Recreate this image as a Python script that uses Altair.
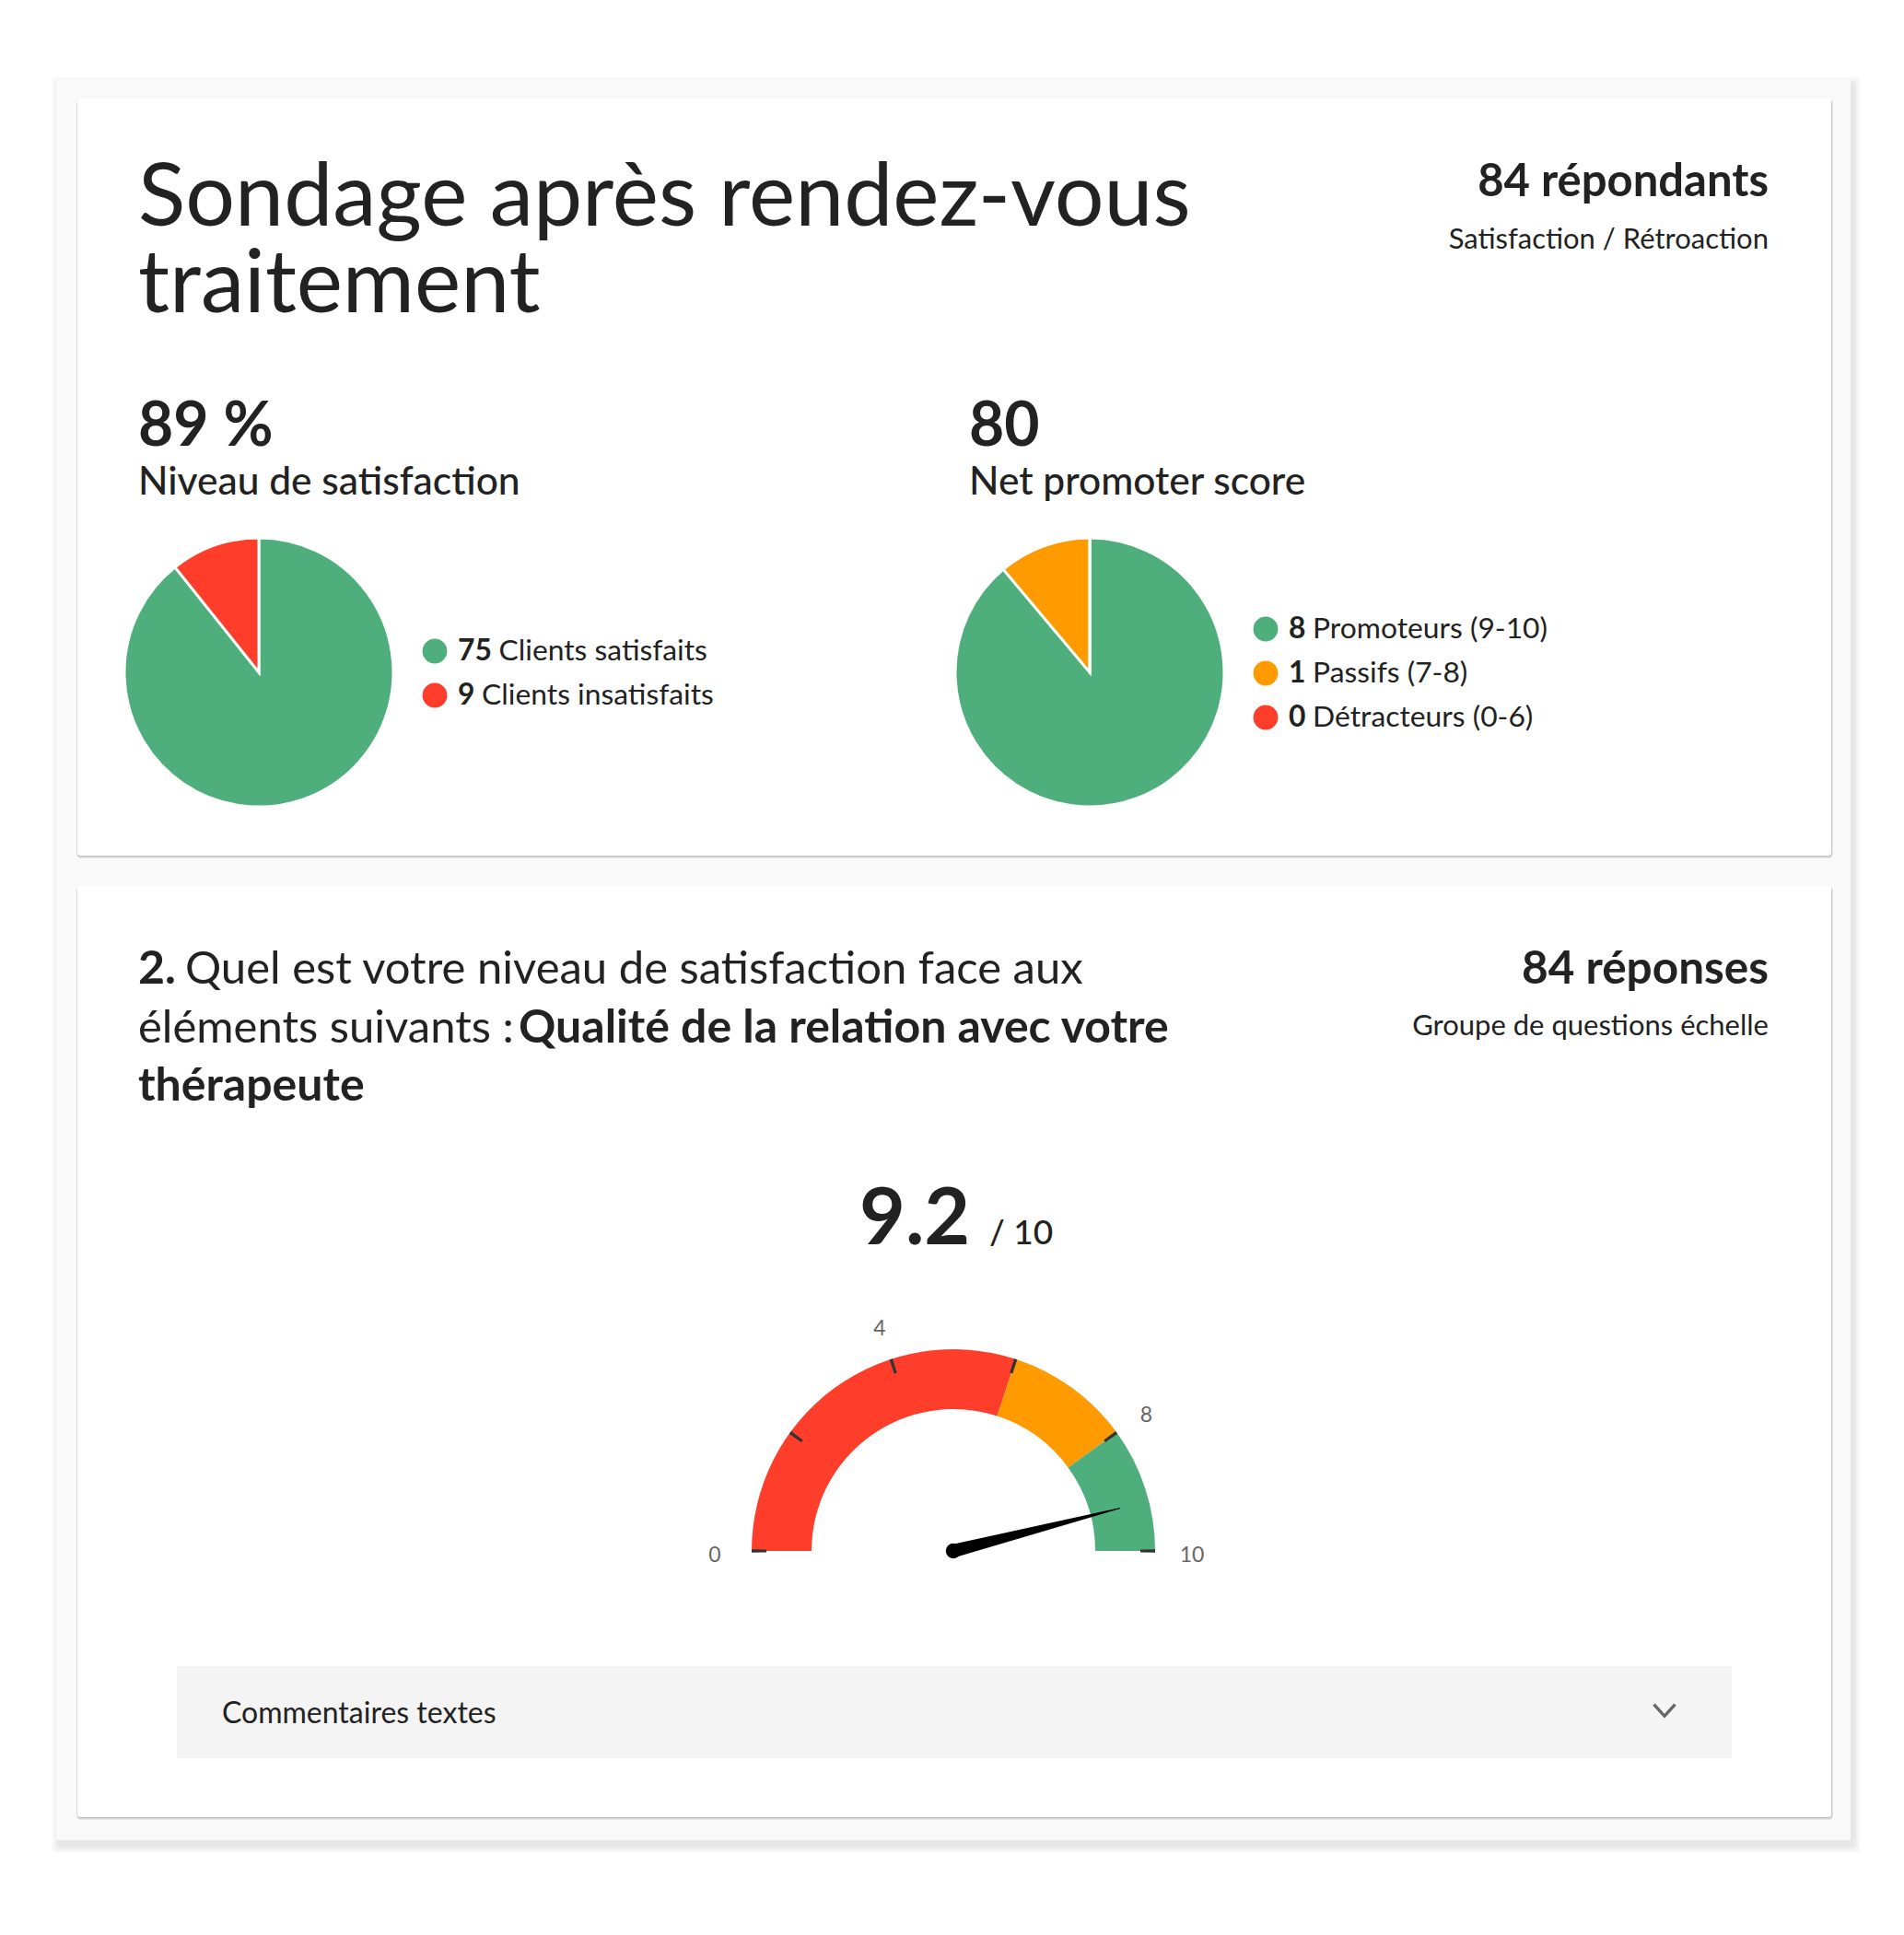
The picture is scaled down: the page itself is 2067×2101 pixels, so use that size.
import altair as alt
import pandas as pd

# ---------------- data ----------------
title_lines = ["Sondage après rendez-vous", "traitement"]
respondents_text = "84 répondants"
survey_type = "Satisfaction / Rétroaction"

sat_value_text = "89 %"
sat_title = "Niveau de satisfaction"
sat_labels = ["Clients satisfaits", "Clients insatisfaits"]
sat_counts = [75, 9]
sat_colors = ["#4faf7c", "#ff3d2b"]

nps_value_text = "80"
nps_title = "Net promoter score"
nps_labels = ["Promoteurs (9-10)", "Passifs (7-8)", "Détracteurs (0-6)"]
nps_counts = [8, 1, 0]
nps_colors = ["#4faf7c", "#ff9a00", "#ff3d2b"]

q_number = "2."
q_line1 = "Quel est votre niveau de satisfaction face aux"
q_line2 = "éléments suivants :"
q_bold2 = "Qualité de la relation avec votre"
q_bold3 = "thérapeute"
responses_text = "84 réponses"
question_type = "Groupe de questions échelle"

gauge_starts = [0, 6, 8]
gauge_ends = [6, 8, 10]
gauge_colors = ["#ff3d2b", "#ff9a00", "#4faf7c"]
gauge_ticks = [0, 2, 4, 6, 8, 10]
gauge_tick_labels = [0, 4, 8, 10]
score = 9.2
score_max = 10
comments_text = "Commentaires textes"

# ---------------- layout (reference pixels) ----------------
OFF = 8
W, H = 2051, 2075
FONT = "Lato"
INK = "#222222"


def P(v):
    return v - OFF


def rects(rows, **mark):
    df = pd.DataFrame([{"x": P(a), "x2": P(b), "y": P(c), "y2": P(d)} for a, b, c, d in rows])
    return alt.Chart(df).mark_rect(**mark).encode(
        x=alt.X("x:Q", scale=None, axis=None), x2="x2:Q",
        y=alt.Y("y:Q", scale=None, axis=None), y2="y2:Q")


def texts(items, size, weight="normal", color=INK, align="left", baseline="alphabetic", **extra):
    df = pd.DataFrame([{"x": P(x), "y": P(y), "t": t} for x, y, t in items])
    return alt.Chart(df).mark_text(fontSize=size, fontWeight=weight, color=color, align=align,
                                   baseline=baseline, font=FONT, **extra).encode(
        x=alt.X("x:Q", scale=None, axis=None), y=alt.Y("y:Q", scale=None, axis=None), text="t:N")


layers = []

# outer container shadow + fill
for i in range(1, 9):
    layers.append(rects([(61 - i + 3, 2009 + i + 3, 86 - i + 5, 1998 + i + 6)],
                        color="#000000", opacity=0.012, cornerRadius=4))
layers.append(rects([(61, 2009, 86, 1998)], color="#f9f9f9"))

# cards with thin shadows
cards = [(84, 1988, 107, 929), (84, 1988, 962, 1973)]
for i in range(1, 4):
    layers.append(rects([(a - 0.5, b + i * 0.6, c + 1, d + i) for a, b, c, d in cards],
                        color="#000000", opacity=0.08, cornerRadius=4))
layers.append(rects(cards, color="#ffffff", cornerRadius=3))

# comment box
layers.append(rects([(192, 1880, 1809, 1909)], color="#f4f4f4"))

# ---- texts card 1
layers.append(texts([(150, 245, "\n".join(title_lines))], 95, lineBreak="\n", lineHeight=94))
layers.append(texts([(1920, 213, respondents_text)], 49, weight="bold", align="right"))
layers.append(texts([(1920, 270, survey_type)], 31, align="right"))
layers.append(texts([(150, 484, sat_value_text), (1052, 484, nps_value_text)], 66, weight="bold"))
layers.append(texts([(150, 537, sat_title), (1052, 537, nps_title)], 42.5, weight=500))

# ---- pies
def pie(labels, counts, colors, cx, cy, r):
    df = pd.DataFrame({"label": labels, "count": counts, "color": colors,
                       "order": list(range(len(labels)))})
    df["cx"] = P(cx)
    df["cy"] = P(cy)
    return alt.Chart(df).mark_arc(radius=r, stroke="white", strokeWidth=3).encode(
        x=alt.X("cx:Q", scale=None, axis=None), y=alt.Y("cy:Q", scale=None, axis=None),
        theta=alt.Theta("count:Q", stack=True),
        color=alt.Color("color:N", scale=None, legend=None),
        order=alt.Order("order:Q"))


layers.append(pie(sat_labels, sat_counts, sat_colors, 281, 730, 146))
layers.append(pie(nps_labels, nps_counts, nps_colors, 1183, 730, 146))

# ---- legends
LEG_FS = 31.8


def legend(labels, counts, colors, dot_x, y0, dy):
    rows = []
    for i, (lab, c, col) in enumerate(zip(labels, counts, colors)):
        cs = str(c)
        tx = dot_x + 25
        rows.append({"dx": P(dot_x), "y": P(y0 + i * dy), "color": col,
                     "cx": P(tx), "ct": cs,
                     "lx": P(tx + len(cs) * 0.58 * LEG_FS + 0.24 * LEG_FS), "lt": lab})
    df = pd.DataFrame(rows)
    base = alt.Chart(df)
    dots = base.mark_circle(size=720, opacity=1).encode(
        x=alt.X("dx:Q", scale=None, axis=None), y=alt.Y("y:Q", scale=None, axis=None),
        color=alt.Color("color:N", scale=None, legend=None))
    cnt = base.mark_text(fontSize=LEG_FS, fontWeight="bold", font=FONT, color=INK, align="left",
                         baseline="middle").encode(
        x=alt.X("cx:Q", scale=None, axis=None), y=alt.Y("y:Q", scale=None, axis=None), text="ct:N")
    lab = base.mark_text(fontSize=LEG_FS, font=FONT, color=INK, align="left", baseline="middle").encode(
        x=alt.X("lx:Q", scale=None, axis=None), y=alt.Y("y:Q", scale=None, axis=None), text="lt:N")
    return [dots, cnt, lab]


layers += legend(sat_labels, sat_counts, sat_colors, 472, 707, 48)
layers += legend(nps_labels, nps_counts, nps_colors, 1374, 683, 48)

# ---- texts card 2
layers.append(texts([(150, 1068, q_number), (563, 1132, q_bold2), (150, 1195, q_bold3)], 50, weight="bold"))
layers.append(texts([(201, 1068, q_line1), (150, 1132, q_line2)], 49))
layers.append(texts([(1920, 1068, responses_text)], 49.5, weight="bold", align="right"))
layers.append(texts([(1920, 1124, question_type)], 31, align="right"))
layers.append(texts([(933, 1351, str(score))], 86, weight="bold"))
layers.append(texts([(1074, 1351, "/ " + str(score_max))], 37, weight=500))
layers.append(texts([(241, 1871, comments_text)], 32))

# ---- gauge
GX, GY = 1035, 1684
gscale = alt.Scale(domain=[0, score_max], range=[-1.5707963, 1.5707963])

gdf = pd.DataFrame({"s": gauge_starts, "e": gauge_ends, "color": gauge_colors})
gdf["cx"] = P(GX)
gdf["cy"] = P(GY)
layers.append(alt.Chart(gdf).mark_arc(innerRadius=154, radius=219).encode(
    x=alt.X("cx:Q", scale=None, axis=None), y=alt.Y("cy:Q", scale=None, axis=None),
    theta=alt.Theta("s:Q", scale=gscale), theta2="e:Q",
    color=alt.Color("color:N", scale=None, legend=None)))

tdf = pd.DataFrame({"v": gauge_ticks})
tdf["s"] = tdf["v"] - 0.025
tdf["e"] = tdf["v"] + 0.025
tdf["cx"] = P(GX)
tdf["cy"] = P(GY)
layers.append(alt.Chart(tdf).mark_arc(innerRadius=203, radius=219, color="#333333").encode(
    x=alt.X("cx:Q", scale=None, axis=None), y=alt.Y("cy:Q", scale=None, axis=None),
    theta=alt.Theta("s:Q", scale=gscale), theta2="e:Q"))

ldf = pd.DataFrame({"v": gauge_tick_labels})
ldf["t"] = ldf["v"].astype(str)
ldf["cx"] = P(GX)
ldf["cy"] = P(GY)
layers.append(alt.Chart(ldf).mark_text(radius=259, fontSize=23, font=FONT, color="#666666",
                                       baseline="middle", dy=5).encode(
    x=alt.X("cx:Q", scale=None, axis=None), y=alt.Y("cy:Q", scale=None, axis=None),
    theta=alt.Theta("v:Q", scale=gscale), text="t:N"))

ndf = pd.DataFrame({"v": [score]})
ndf["cx"] = P(GX)
ndf["cy"] = P(GY)
needle_len = 187
layers.append(alt.Chart(ndf).mark_point(
    shape="M 0 -0.038 L -1 -0.003 L -1 0.003 L 0 0.038 Z", filled=True, color="#000000",
    opacity=1, size=(2 * needle_len) ** 2, strokeWidth=0).encode(
    x=alt.X("cx:Q", scale=None, axis=None), y=alt.Y("cy:Q", scale=None, axis=None),
    angle=alt.Angle("v:Q", scale=alt.Scale(domain=[0, score_max], range=[0, 180]))))
layers.append(alt.Chart(ndf).mark_circle(size=270, color="#000000", opacity=1).encode(
    x=alt.X("cx:Q", scale=None, axis=None), y=alt.Y("cy:Q", scale=None, axis=None)))

# chevron
cdf = pd.DataFrame({"x": [P(1807)], "y": [P(1857)]})
layers.append(alt.Chart(cdf).mark_point(
    shape="M -1 -0.55 L 0 0.55 L 1 -0.55", filled=False, color="#666666", strokeWidth=3.4,
    size=23 ** 2, opacity=1).encode(
    x=alt.X("x:Q", scale=None, axis=None), y=alt.Y("y:Q", scale=None, axis=None)))

chart = alt.layer(*layers).properties(
    width=W, height=H, padding=0, autosize=alt.AutoSizeParams(type="none"), background="#ffffff"
).resolve_scale(theta="independent").configure_view(stroke=None)

chart.save("out.html", embed_options={"renderer": "svg", "actions": False})
